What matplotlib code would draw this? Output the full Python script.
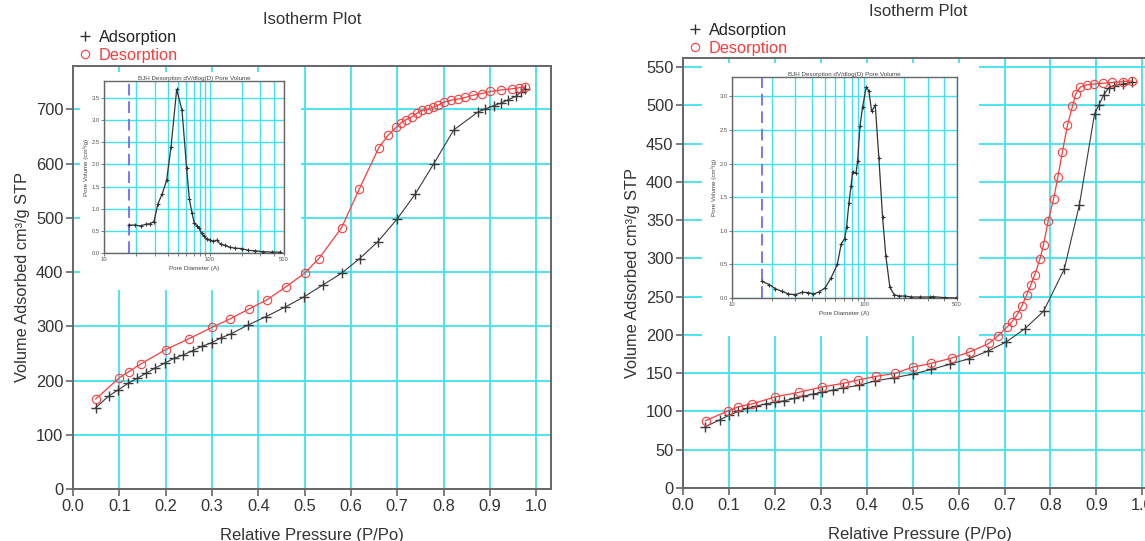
import numpy as np
import matplotlib
matplotlib.use('Agg')
import matplotlib.pyplot as plt
from matplotlib.lines import Line2D
from matplotlib.patches import Rectangle

plt.rcParams['font.family'] = ['Liberation Sans', 'DejaVu Sans']

W, H = 1145, 541

# left sample - isotherm
left_ads_p = [0.049, 0.078, 0.098, 0.119, 0.138, 0.157, 0.177, 0.198, 0.218, 0.237, 0.258,
              0.278, 0.300, 0.320, 0.341, 0.377, 0.417, 0.457, 0.498, 0.539, 0.580, 0.619,
              0.658, 0.700, 0.739, 0.779, 0.822, 0.874, 0.890, 0.909, 0.925, 0.940, 0.956,
              0.967, 0.975]
left_ads_v = [150, 172, 183, 195, 204, 213, 223, 232, 241, 247, 255,
              263, 270, 279, 286, 302, 318, 335, 354, 376, 398, 425,
              456, 498, 544, 600, 662, 695, 701, 707, 712, 718, 724,
              732, 738]
left_des_p = [0.049, 0.100, 0.120, 0.147, 0.200, 0.250, 0.300, 0.340, 0.380, 0.419, 0.460,
              0.500, 0.531, 0.580, 0.618, 0.660, 0.680, 0.698, 0.708, 0.719, 0.731, 0.743,
              0.754, 0.766, 0.777, 0.789, 0.800, 0.816, 0.832, 0.847, 0.863, 0.882, 0.901,
              0.925, 0.948, 0.963, 0.975]
left_des_v = [166, 205, 216, 231, 257, 277, 298, 314, 332, 349, 373,
              398, 425, 482, 553, 629, 652, 667, 675, 681, 686, 693,
              698, 700, 704, 708, 713, 717, 719, 722, 726, 729, 733,
              736, 738, 740, 741]

# left sample - BJH pore size distribution
left_bjh_d = [17.3, 19.6, 22.2, 24.9, 27.2, 29.6, 32.3, 35.5, 39.0, 42.9, 48.5, 54.5,
              60.2, 63.9, 67.7, 71.1, 76.0, 79.4, 83.4, 87.8, 93.0, 100, 107, 115.6,
              126, 138.6, 154, 172, 199, 230, 266, 318, 382, 457]
left_bjh_v = [0.63, 0.63, 0.61, 0.65, 0.66, 0.71, 1.11, 1.34, 1.64, 2.39, 3.69, 3.22,
              1.92, 1.22, 0.90, 0.68, 0.60, 0.56, 0.44, 0.38, 0.32, 0.30, 0.26, 0.29,
              0.20, 0.17, 0.13, 0.11, 0.10, 0.06, 0.05, 0.03, 0.02, 0.02]

# right sample - isotherm
right_ads_p = [0.048, 0.080, 0.100, 0.120, 0.139, 0.160, 0.180, 0.200, 0.220, 0.242, 0.262,
               0.284, 0.303, 0.327, 0.348, 0.383, 0.418, 0.459, 0.501, 0.541, 0.582, 0.623,
               0.664, 0.704, 0.744, 0.785, 0.830, 0.863, 0.896, 0.906, 0.916, 0.927, 0.938,
               0.957, 0.977]
right_ads_v = [80, 89, 95, 100, 104, 107, 110, 112, 114, 117, 120,
               123, 125, 128, 131, 134, 140, 144, 149, 155, 162, 169,
               179, 191, 208, 231, 286, 370, 489, 501, 514, 523, 526,
               528, 530]
right_des_p = [0.049, 0.099, 0.120, 0.151, 0.200, 0.252, 0.302, 0.351, 0.380, 0.421, 0.462,
               0.501, 0.541, 0.586, 0.625, 0.666, 0.686, 0.705, 0.716, 0.727, 0.738, 0.748,
               0.757, 0.766, 0.777, 0.785, 0.795, 0.807, 0.816, 0.826, 0.837, 0.848, 0.855,
               0.865, 0.879, 0.895, 0.914, 0.934, 0.957, 0.977]
right_des_v = [88, 101, 106, 110, 119, 125, 132, 137, 141, 146, 150,
               158, 163, 170, 178, 189, 199, 210, 217, 226, 238, 252,
               265, 279, 299, 318, 349, 378, 406, 439, 474, 499, 515,
               524, 527, 528, 529, 530, 531, 532]

# right sample - BJH
right_bjh_d = [16.8, 19.1, 21.2, 23.8, 26.7, 30.0, 34.0, 37.8, 41.2, 45.4, 50.4, 56.0,
               62.4, 66.9, 70.9, 73.4, 76.4, 79.1, 81.5, 86.3, 88.9, 92.5, 96.8, 103.2,
               108.1, 113.3, 120.7, 128.6, 137, 145, 155.6, 167.8, 182, 201.8, 226, 262,
               311, 330, 403, 494]
right_bjh_v = [0.25, 0.20, 0.14, 0.10, 0.06, 0.05, 0.085, 0.08, 0.06, 0.09, 0.15, 0.30,
               0.50, 0.81, 0.88, 1.06, 1.42, 1.66, 1.88, 1.86, 2.04, 2.56, 2.84, 3.14,
               3.08, 2.78, 2.87, 2.08, 1.21, 0.63, 0.16, 0.05, 0.03, 0.03, 0.015, 0.015,
               0.015, 0.02, 0.005, 0.0]

x_ticks = [0.0, 0.1, 0.2, 0.3, 0.4, 0.5, 0.6, 0.7, 0.8, 0.9, 1.0]
left_y_ticks = [0, 100, 200, 300, 400, 500, 600, 700]
right_y_ticks = [0, 50, 100, 150, 200, 250, 300, 350, 400, 450, 500, 550]
bjh_grid = [10, 20, 30, 40, 50, 60, 70, 80, 90, 100, 200, 300, 400, 500]
bjh_labels = {10: '10', 100: '100', 500: '500'}
left_bjh_yticks = [0.0, 0.5, 1.0, 1.5, 2.0, 2.5, 3.0, 3.5]
right_bjh_yticks = [0.0, 0.5, 1.0, 1.5, 2.0, 2.5, 3.0]
bjh_cutoff = [17.3, 16.9]

CYAN = '#3fe3ef'
FRAME = '#666666'
TXT = '#333333'


def px_box(x0, y0, x1, y1):
    # pixel box (top-left origin) -> figure rect
    return [x0 / W, 1 - y1 / H, (x1 - x0) / W, (y1 - y0) / H]


fig = plt.figure(figsize=(W / 100, H / 100), dpi=100)


def main_panel(rect, white, ads_p, ads_v, des_p, des_v, yticks, ymax, title_xy, leg_xy):
    ax = fig.add_axes(px_box(*rect))
    ax.set_xlim(0, 1.032)
    ax.set_ylim(0, ymax)
    ax.set_xticks(x_ticks)
    ax.set_xticklabels(['%.1f' % t for t in x_ticks])
    ax.set_yticks(yticks)
    ax.grid(True, color=CYAN, lw=1.3)
    ax.set_axisbelow(True)
    for s in ax.spines.values():
        s.set_color(FRAME)
        s.set_linewidth(1.4)
    ax.tick_params(direction='out', length=5, width=1.2, color=FRAME, labelsize=11.8,
                   labelcolor=TXT, pad=2)
    # white patch hides the grid behind the inset picture, data stays on top
    x0, y0, x1, y1 = white
    ax.add_patch(Rectangle((x0 / W, 1 - y1 / H), (x1 - x0) / W, (y1 - y0) / H,
                           transform=fig.transFigure, facecolor='white', edgecolor='none',
                           zorder=1))
    ax.plot(ads_p, ads_v, color='#3a3a3a', lw=0.8, marker='+', ms=6.5, mew=1.0, zorder=3)
    ax.plot(des_p, des_v, color='#ff3b3b', lw=0.9, marker='o', ms=6.0, mew=0.8,
            mfc='none', zorder=3)
    ax.set_xlabel('Relative Pressure (P/Po)', fontsize=12, color=TXT, labelpad=10)
    ax.set_ylabel('Volume Adsorbed cm³/g STP', fontsize=11.8, color=TXT, labelpad=4)
    fig.text(title_xy[0] / W, 1 - title_xy[1] / H, 'Isotherm Plot', ha='center', va='center',
             fontsize=12, color=TXT)
    handles = [Line2D([], [], ls='none', marker='+', ms=7, mew=1, color='#333333'),
               Line2D([], [], ls='none', marker='o', ms=6, mew=0.8, mfc='none', color='#ff3b3b')]
    fig.legend(handles, ['Adsorption', 'Desorption'], loc='upper left',
               bbox_to_anchor=(leg_xy[0] / W, 1 - leg_xy[1] / H), frameon=False,
               fontsize=11.8, handlelength=0.7, handletextpad=0.5, borderpad=0,
               borderaxespad=0, labelspacing=0.18, labelcolor=['#222222', '#ff3b3b'])
    return ax


def bjh_inset(rect, d, v, yticks, ymax, cutoff):
    ax = fig.add_axes(px_box(*rect))
    ax.set_zorder(2)
    ax.set_xscale('log')
    ax.set_xlim(10, 500)
    ax.set_ylim(0, ymax)
    ax.set_xticks(bjh_grid)
    ax.set_xticklabels([bjh_labels.get(g, '') for g in bjh_grid])
    ax.xaxis.set_minor_locator(matplotlib.ticker.NullLocator())
    ax.set_yticks(yticks)
    ax.set_yticklabels(['%.1f' % t for t in yticks])
    ax.grid(True, color=CYAN, lw=1.0)
    ax.set_axisbelow(True)
    for s in ax.spines.values():
        s.set_color(FRAME)
        s.set_linewidth(1.0)
    ax.tick_params(direction='out', length=2, width=0.6, color=FRAME, labelsize=4.2,
                   labelcolor='#555555', pad=1)
    ax.axvline(cutoff, color='#7777ff', lw=1.4, ls=(0, (6, 3)), zorder=2)
    ax.plot(d, v, color='#333333', lw=0.9, marker='+', ms=3, mew=0.8, zorder=3)
    ax.set_title('BJH Desorption dV/dlog(D) Pore Volume', fontsize=4.5, color='#444444', pad=1)
    ax.set_xlabel('Pore Diameter (A)', fontsize=4.5, color='#444444', labelpad=3)
    ax.set_ylabel('Pore Volume (cm³/g)', fontsize=4.5, color='#444444', labelpad=2)
    return ax


main_panel((73, 66, 551, 489), (80, 72, 301, 290), left_ads_p, left_ads_v,
           left_des_p, left_des_v, left_y_ticks, 780, (312, 20), (79, 30))
bjh_inset((104, 81, 284, 253), left_bjh_d, left_bjh_v,
          left_bjh_yticks, 3.88, bjh_cutoff[0])

main_panel((683, 58, 1157, 488), (702, 63, 979, 336), right_ads_p, right_ads_v,
           right_des_p, right_des_v, right_y_ticks, 562, (918, 11), (689, 23))
bjh_inset((732, 77, 957, 298), right_bjh_d, right_bjh_v,
          right_bjh_yticks, 3.29, bjh_cutoff[1])

fig.savefig('out.png', dpi=100)
